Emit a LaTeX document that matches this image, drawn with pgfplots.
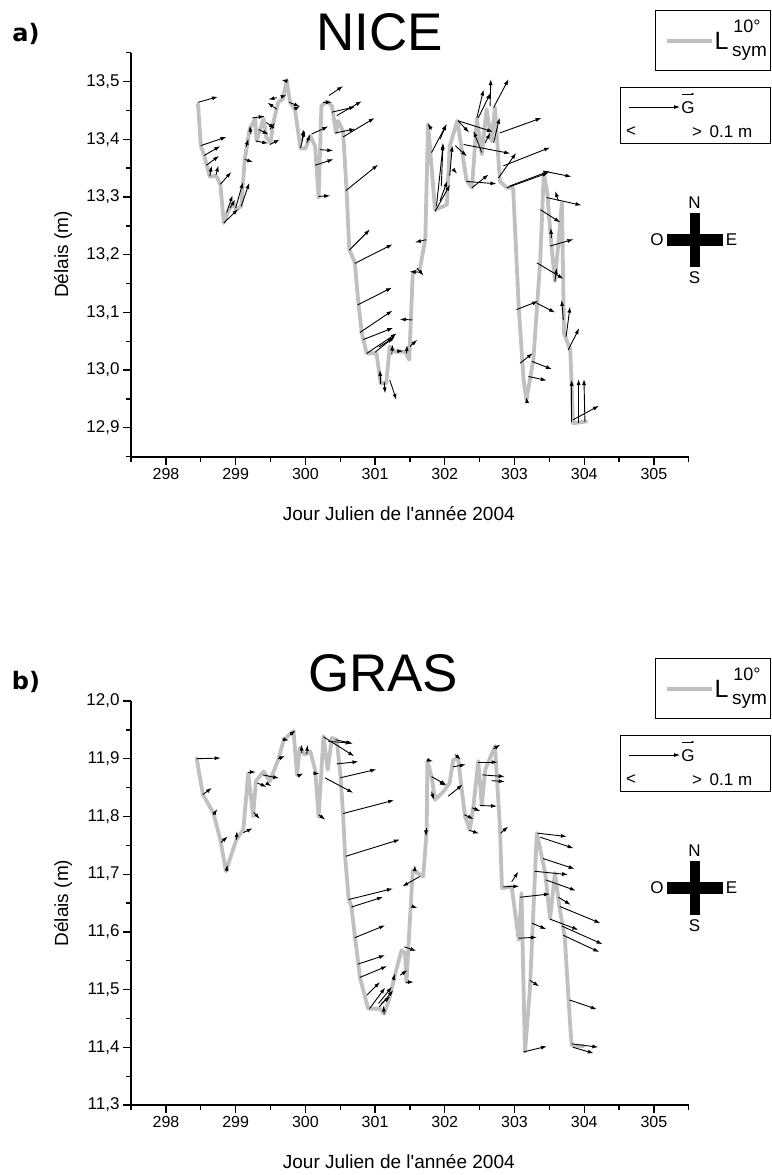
\documentclass[border=0pt]{standalone}
\usepackage{fontspec}
\setmainfont{Liberation Sans}
\newfontfamily\panelfont{DejaVu Sans}
\usepackage{pgfplots}
\pgfplotsset{compat=1.18}
\usepackage{pgfplotstable}
\usetikzlibrary{arrows.meta}
\definecolor{symgray}{RGB}{192,192,192}

% ---------------- NICE : L_sym 10deg series ----------------
\pgfplotstableread{
x y
298.46 13.461
298.50 13.389
298.55 13.371
298.63 13.335
298.72 13.337
298.78 13.322
298.83 13.255
298.89 13.275
298.97 13.290
299.01 13.278
299.08 13.284
299.13 13.365
299.20 13.417
299.28 13.436
299.30 13.397
299.40 13.436
299.44 13.403
299.50 13.394
299.54 13.429
299.61 13.464
299.68 13.470
299.73 13.503
299.78 13.464
299.85 13.452
299.93 13.384
300.00 13.384
300.07 13.406
300.14 13.388
300.19 13.299
300.23 13.458
300.31 13.466
300.38 13.458
300.44 13.411
300.47 13.432
300.54 13.414
300.59 13.313
300.63 13.209
300.71 13.186
300.76 13.116
300.81 13.064
300.88 13.029
301.02 13.029
301.08 12.977
301.16 12.977
301.21 13.041
301.29 13.032
301.43 13.032
301.49 13.018
301.54 13.168
301.64 13.174
301.72 13.226
301.76 13.426
301.86 13.278
301.98 13.284
302.03 13.287
302.07 13.388
302.18 13.432
302.31 13.330
302.39 13.316
302.46 13.435
302.53 13.374
302.60 13.452
302.67 13.397
302.72 13.455
302.79 13.327
302.89 13.316
302.98 13.316
303.06 13.110
303.13 12.983
303.17 12.948
303.27 13.018
303.37 13.192
303.42 13.342
303.47 13.307
303.53 13.215
303.58 13.154
303.68 13.290
303.71 13.064
303.80 13.035
303.84 12.908
304.03 12.911
}\lineA

% ---------------- NICE : gradient arrows (u in days, v in m) ----------------
\pgfplotstableread{
x y u v
298.46 13.464 0.287 0.0098
298.50 13.389 0.368 0.0150
298.55 13.372 0.230 0.0162
298.58 13.355 0.182 0.0162
298.63 13.336 0.024 0.0185
298.72 13.339 0.033 0.0156
298.78 13.322 0.158 0.0214
298.83 13.255 0.206 0.0243
298.87 13.273 0.086 0.0301
298.92 13.281 0.072 0.0145
299.00 13.281 0.105 0.0446
299.08 13.284 0.115 0.0405
299.13 13.365 0.120 -0.0046
299.15 13.387 0.033 0.0139
299.22 13.409 -0.019 0.0145
299.24 13.437 0.177 0.0029
299.33 13.417 0.143 -0.0087
299.29 13.397 0.177 -0.0041
299.44 13.429 0.120 -0.0104
299.49 13.417 0.072 0.0116
299.49 13.391 0.143 0.0087
299.59 13.452 -0.134 0.0116
299.59 13.472 -0.120 -0.0029
299.66 13.474 0.072 0.0023
299.73 13.501 -0.072 0.0017
299.77 13.464 0.153 -0.0075
299.84 13.452 0.086 0.0058
299.95 13.397 0.024 0.0203
299.93 13.385 0.062 0.0301
300.02 13.394 0.048 0.0145
300.09 13.409 0.239 0.0133
300.14 13.355 0.263 0.0104
300.21 13.382 0.191 -0.0017
300.19 13.301 0.167 0.0012
300.25 13.464 0.129 0.0000
300.34 13.476 0.201 0.0162
300.38 13.447 0.335 0.0093
300.45 13.441 0.359 0.0249
300.43 13.411 0.287 0.0069
300.54 13.404 0.454 0.0330
300.58 13.311 0.464 0.0451
300.63 13.208 0.297 0.0359
300.71 13.185 0.540 0.0330
300.75 13.113 0.493 0.0301
300.78 13.065 0.469 0.0382
300.83 13.053 0.430 0.0203
300.88 13.029 0.430 0.0347
301.00 13.031 0.287 0.0278
301.05 13.040 0.215 0.0156
301.08 12.976 -0.010 0.0243
301.13 12.980 0.014 -0.0203
301.21 12.983 0.096 -0.0347
301.24 13.027 0.010 0.0174
301.31 13.033 0.096 0.0000
301.45 13.029 0.010 0.0145
301.50 13.041 0.105 0.0116
301.53 13.087 -0.177 0.0012
301.60 13.177 0.096 -0.0133
301.61 13.170 -0.115 0.0006
301.73 13.226 -0.158 -0.0046
301.81 13.417 -0.057 0.0104
301.81 13.377 0.215 0.0492
301.86 13.275 0.215 0.0463
301.88 13.284 0.096 0.1071
301.93 13.293 0.105 0.0347
301.95 13.319 0.024 0.0752
302.07 13.336 0.038 0.0532
302.12 13.348 0.057 -0.0075
301.93 13.400 0.096 0.0260
302.15 13.389 0.167 -0.0185
302.19 13.432 0.158 -0.0203
302.19 13.432 0.502 -0.0191
302.27 13.391 0.670 -0.0156
302.39 13.316 0.239 0.0231
302.31 13.327 0.430 -0.0041
302.46 13.437 0.096 0.0492
302.48 13.437 0.177 0.0434
302.65 13.458 0.010 0.0463
302.70 13.455 0.215 0.0492
302.53 13.377 -0.120 0.0376
302.58 13.394 0.072 0.0174
302.70 13.394 0.086 0.0434
302.79 13.411 0.598 0.0260
302.77 13.333 0.253 0.0434
302.84 13.354 0.670 0.0318
302.89 13.316 0.598 0.0260
302.93 13.319 0.574 0.0260
303.41 13.345 0.407 -0.0098
303.46 13.299 0.502 -0.0133
303.37 13.278 0.287 -0.0220
303.63 13.293 -0.048 0.0174
303.51 13.215 0.335 0.0116
303.53 13.229 -0.010 0.0174
303.32 13.186 0.383 -0.0278
303.58 13.154 0.024 0.0231
303.03 13.105 0.311 0.0145
303.32 13.116 0.263 -0.0162
303.70 13.087 -0.024 0.0347
303.74 13.058 0.057 0.0521
303.77 13.035 0.158 0.0376
303.08 13.012 0.182 0.0174
303.25 13.015 0.287 -0.0133
303.20 12.989 0.263 -0.0069
303.18 12.943 -0.010 0.0104
303.82 12.911 0.000 0.0723
303.92 12.908 0.000 0.0764
304.01 12.911 -0.014 0.0735
303.84 12.914 0.373 0.0243
}\arrA

% ---------------- GRAS : L_sym 10deg series ----------------
\pgfplotstableread{
x y
298.44 11.901
298.53 11.838
298.68 11.806
298.78 11.760
298.86 11.705
299.01 11.760
299.11 11.777
299.18 11.875
299.25 11.800
299.29 11.861
299.40 11.878
299.49 11.861
299.61 11.898
299.69 11.933
299.83 11.948
299.88 11.872
299.92 11.919
299.99 11.907
300.07 11.913
300.14 11.881
300.19 11.800
300.26 11.939
300.32 11.881
300.38 11.936
300.45 11.933
300.50 11.875
300.54 11.806
300.57 11.731
300.62 11.658
300.66 11.644
300.71 11.592
300.76 11.545
300.78 11.522
300.90 11.467
301.07 11.467
301.13 11.458
301.21 11.487
301.29 11.528
301.38 11.568
301.43 11.563
301.45 11.513
301.54 11.707
301.69 11.696
301.74 11.774
301.75 11.896
301.81 11.869
301.86 11.829
301.98 11.843
302.07 11.858
302.12 11.898
302.19 11.901
302.29 11.800
302.36 11.777
302.41 11.817
302.48 11.896
302.53 11.820
302.58 11.881
302.72 11.922
302.79 11.783
302.82 11.676
302.96 11.678
303.06 11.586
303.10 11.667
303.15 11.392
303.22 11.499
303.32 11.771
303.44 11.702
303.51 11.623
303.58 11.702
303.65 11.638
303.72 11.592
303.80 11.435
303.82 11.403
303.99 11.402
}\lineB

% ---------------- GRAS : gradient arrows ----------------
\pgfplotstableread{
x y u v
298.44 11.900 0.344 0.0012
298.53 11.838 0.129 0.0116
298.68 11.803 0.057 0.0098
298.79 11.755 0.096 0.0104
298.87 11.705 0.010 0.0116
299.01 11.760 0.010 0.0145
299.11 11.772 0.134 0.0075
299.18 11.877 0.110 0.0000
299.26 11.807 0.086 -0.0116
299.31 11.858 0.134 -0.0069
299.39 11.872 0.234 -0.0058
299.45 11.857 0.062 -0.0046
299.61 11.900 0.100 0.0046
299.67 11.934 0.096 -0.0023
299.78 11.942 0.081 0.0069
299.89 11.870 0.081 0.0046
299.95 11.910 -0.010 0.0145
300.02 11.908 0.010 0.0162
300.11 11.875 0.096 -0.0012
300.19 11.803 0.096 -0.0087
300.26 11.938 0.440 -0.0336
300.33 11.930 0.335 -0.0029
300.43 11.933 0.253 -0.0069
300.45 11.891 0.311 0.0041
300.50 11.867 0.517 0.0145
300.28 11.867 0.407 -0.0261
300.54 11.805 0.732 0.0232
300.58 11.731 0.775 0.0290
300.62 11.656 0.636 0.0191
300.66 11.643 0.454 0.0174
300.71 11.590 0.435 0.0214
300.75 11.544 0.392 0.0156
300.78 11.521 0.392 0.0197
300.88 11.490 0.191 0.0232
300.92 11.467 0.225 0.0365
301.05 11.476 0.191 0.0290
301.06 11.470 0.201 0.0290
301.09 11.476 0.129 0.0116
301.13 11.458 -0.010 0.0145
301.26 11.516 0.024 0.0116
301.36 11.525 0.105 0.0087
301.42 11.574 0.172 -0.0069
301.45 11.513 0.105 0.0000
301.54 11.644 0.067 -0.0029
301.57 11.707 0.000 0.0087
301.64 11.696 -0.249 -0.0174
301.73 11.780 0.000 -0.0145
301.75 11.898 0.081 -0.0029
301.81 11.869 0.215 -0.0145
301.81 11.843 0.033 -0.0145
301.93 11.859 0.086 -0.0058
302.05 11.835 0.206 0.0203
302.12 11.886 0.182 0.0041
302.15 11.907 0.081 -0.0087
302.28 11.803 0.134 -0.0075
302.35 11.776 0.143 -0.0058
302.39 11.815 0.120 -0.0058
302.47 11.894 0.287 0.0000
302.54 11.872 0.320 -0.0029
302.67 11.862 0.191 -0.0017
302.50 11.819 0.249 -0.0012
302.70 11.917 0.096 0.0075
302.80 11.771 0.110 0.0116
302.96 11.687 0.096 0.0174
302.84 11.678 0.230 0.0012
303.08 11.660 0.430 0.0058
303.06 11.589 0.263 0.0017
303.25 11.615 0.206 -0.0104
303.22 11.516 0.134 -0.0104
303.13 11.392 0.335 0.0098
303.33 11.771 0.421 -0.0058
303.37 11.764 0.478 -0.0191
303.41 11.727 0.454 -0.0179
303.29 11.705 0.478 -0.0058
303.45 11.690 0.430 -0.0185
303.63 11.660 0.177 -0.0133
303.65 11.644 0.583 -0.0290
303.51 11.622 0.407 -0.0185
303.68 11.610 0.583 -0.0313
303.70 11.594 0.517 -0.0290
303.79 11.482 0.392 -0.0162
303.82 11.406 0.383 -0.0058
303.84 11.400 0.297 -0.0104
}\arrB

\pgfplotsset{
  panel/.style={
    scale only axis, width=557.7pt, height=404pt,
    xmin=297.5, xmax=305.5,
    axis lines=left,
    axis line style={-, line width=1.6pt},
    tick align=outside,
    major tick length=8pt, minor tick length=5pt,
    tick style={black, line width=1.3pt},
    xtick={298,299,300,301,302,303,304,305},
    minor xtick={297.5,298.5,299.5,300.5,301.5,302.5,303.5,304.5,305.5},
    /pgf/number format/assume math mode=true,
    ticklabel style={font=\fontsize{16}{19}\selectfont},
    yticklabel style={font=\fontsize{17}{19}\selectfont,
      /pgf/number format/.cd, fixed, fixed zerofill, precision=1, use comma},
    xticklabel style={/pgf/number format/.cd, fixed, precision=0, 1000 sep={}},
    label style={font=\fontsize{19}{22}\selectfont},
    xlabel={Jour Julien de l\textquotesingle ann\'ee 2004},
    ylabel={Délais (m)},
    xlabel style={at={(axis description cs:0.48,-0.141)}, anchor=center},
    ylabel style={at={(axis description cs:-0.122,0.5)}, anchor=center},
    title style={font=\fontsize{53}{60}\selectfont, anchor=center},
    clip=false,
  },
  symline/.style={symgray, line width=3.8pt, line join=round, line cap=round},
  gradarrow/.style={black, line width=0.9pt, -{Latex[length=6pt,width=4pt]},
    quiver={u=\thisrow{u}, v=\thisrow{v}}},
}

\begin{document}
\begin{tikzpicture}
% ---------- panel a ----------
\begin{axis}[panel,
  at={(131.1pt,-456.7pt)}, anchor=south west,
  ymin=12.85, ymax=13.55,
  ytick={12.9,13,13.1,13.2,13.3,13.4,13.5},
  minor ytick={12.85,12.95,13.05,13.15,13.25,13.35,13.45,13.55},
  title={NICE},
  title style={at={(axis description cs:0.446,1.036)}},
]
\addplot[symline] table[x=x,y=y] {\lineA};
\addplot[gradarrow] table[x=x,y=y] {\arrA};
\end{axis}
% ---------- panel b ----------
\begin{axis}[panel,
  at={(131.1pt,-1105pt)}, anchor=south west,
  ymin=11.3, ymax=12.0,
  ytick={11.3,11.4,11.5,11.6,11.7,11.8,11.9,12},
  minor ytick={11.35,11.45,11.55,11.65,11.75,11.85,11.95},
  title={GRAS},
  title style={at={(axis description cs:0.452,1.055)}},
]
\addplot[symline] table[x=x,y=y] {\lineB};
\addplot[gradarrow] table[x=x,y=y] {\arrB};
\end{axis}

\begin{scope}[x=1pt,y=-1pt]
\path[use as bounding box] (0,0) rectangle (771,1175);
\foreach \dy/\lab in {0/a, 648/b}{
  \begin{scope}[yshift=-\dy pt]
  % panel letter
  \node[font=\panelfont\bfseries\fontsize{24}{27}\selectfont] at (26,34) {\lab)};
  % legend box 1
  \draw[line width=0.8pt] (655,10) rectangle (770.5,70);
  \draw[symgray, line width=3.8pt] (667,41) -- (712,41);
  \node[font=\fontsize{25}{28}\selectfont, inner sep=0pt] at (721.5,40.5) {L};
  \node[font=\fontsize{18}{20}\selectfont, inner sep=0pt] at (747,26) {10°};
  \node[font=\fontsize{19}{21}\selectfont, inner sep=0pt] at (749.5,53) {sym};
  % legend box 2
  \draw[line width=0.8pt] (620,87) rectangle (770.5,143);
  \draw[line width=0.8pt, -{Latex[length=6pt,width=4pt]}] (629,107) -- (680,107);
  \node[font=\fontsize{17}{20}\selectfont, inner sep=0pt] at (688,108) {G};
  \draw[line width=0.7pt, -{Latex[length=3.5pt,width=2.5pt]}] (682,94) -- (695,94);
  \node[font=\fontsize{17}{20}\selectfont, inner sep=0pt] at (631,132) {<};
  \node[font=\fontsize{17}{20}\selectfont, inner sep=0pt, anchor=west] at (692,132) {>\ \,0.1 m};
  % compass
  \draw[line width=12pt] (667,240) -- (723,240);
  \draw[line width=10pt] (694.5,213) -- (694.5,267);
  \node[font=\fontsize{17}{20}\selectfont, inner sep=0pt] at (694.5,202.5) {N};
  \node[font=\fontsize{17}{20}\selectfont, inner sep=0pt] at (694.5,277.5) {S};
  \node[font=\fontsize{17}{20}\selectfont, inner sep=0pt] at (657,240) {O};
  \node[font=\fontsize{17}{20}\selectfont, inner sep=0pt] at (731.5,240) {E};
  \end{scope}
}
\end{scope}
\end{tikzpicture}
\end{document}
